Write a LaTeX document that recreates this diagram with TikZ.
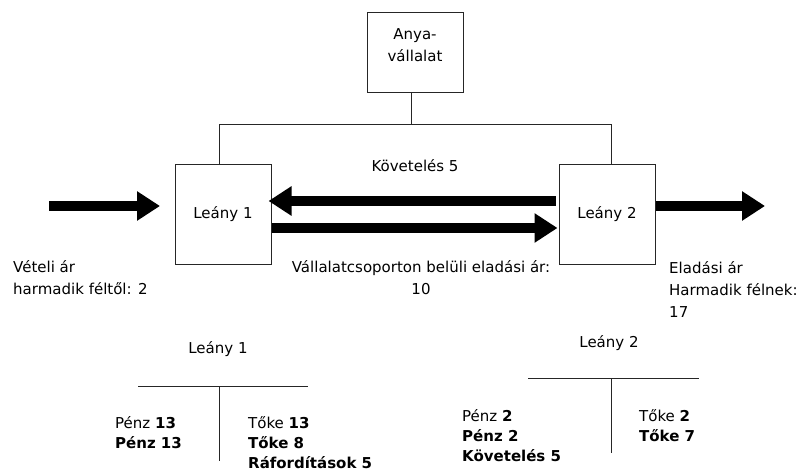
\documentclass[tikz,border=0pt]{standalone}
\usepackage{fontspec}
\setmainfont{DejaVu Sans}
\usetikzlibrary{arrows.meta,calc}
\begin{document}
\begin{tikzpicture}[x=1pt,y=-1pt,
  every node/.style={font=\fontsize{15}{22}\selectfont, inner sep=0pt, text=black},
  box/.style={draw=black!85, line width=1pt, minimum width=96pt, minimum height=99pt},
  conn/.style={draw=black!85, line width=1pt},
  fat/.style={line width=10pt, -{Triangle[length=23pt,width=28pt]}},
  tacc/.style={font=\fontsize{15}{20}\selectfont, anchor=base west, align=left}]
\useasboundingbox (0,0) rectangle (799,470);
% boxes
\node[box] (l1) at (223,214.5) {Leány 1};
\node[box] (l2) at (607,214.5) {Leány 2};
\node[box, minimum height=80pt] (anya) at (415,53) {};
\node[align=center, anchor=base] (anyat) at (415,62) {Anya-\\vállalat};
% connectors to parent
\coordinate (busL) at (219,125);
\coordinate (busR) at (611,125);
\coordinate (anyaB) at (411,125);
\draw[conn] (anya.south -| anyaB) -- (anyaB);
\draw[conn] (l1.north -| busL) -- (busL) -- (busR) -- (l2.north -| busR);
% fat arrows
\coordinate (y201) at (0,201);
\coordinate (y228) at (0,228);
\coordinate (inS) at (49,206);
\coordinate (inE) at (160,206);
\coordinate (outE) at (765,206);
\draw[fat] ($(l2.west|-y201)+(-3,0)$) -- ($(l1.east|-y201)+(-3,0)$);
\draw[fat] (l1.east|-y228) -- ($(l2.west|-y228)+(-1,0)$);
\draw[fat] (inS) -- (inE);
\draw[fat] (l2.east|-outE) -- (outE);
% labels
\node[anchor=base] (kov) at (415,172) {Követelés 5};
\node[anchor=base west, align=left] (veteli) at (13,294) {Vételi ár\\harmadik féltől: 2};
\node[anchor=base, align=center] (belul) at (421,294) {Vállalatcsoporton belüli eladási ár:\\10};
\node[anchor=base west, align=left] (eladasi) at (669,317) {Eladási ár\\Harmadik félnek:\\17};
% T accounts
\node[anchor=base] (t1) at (218,353) {Leány 1};
\node[anchor=base] (t2) at (609,347) {Leány 2};
\coordinate (t1a) at (138,386);
\coordinate (t1b) at (308,386);
\coordinate (t1c) at (219,386);
\coordinate (t1d) at (219,461);
\draw[conn] (t1a) -- (t1b);
\draw[conn] (t1c) -- (t1d);
\coordinate (t2a) at (528,378);
\coordinate (t2b) at (699,378);
\coordinate (t2c) at (611,378);
\coordinate (t2d) at (611,453);
\draw[conn] (t2a) -- (t2b);
\draw[conn] (t2c) -- (t2d);
\node[tacc] (t1l) at (115,448) {Pénz \textbf{13}\\\textbf{Pénz 13}};
\node[tacc] (t1r) at (248,468) {Tőke \textbf{13}\\\textbf{Tőke 8}\\\textbf{Ráfordítások 5}};
\node[tacc] (t2l) at (462,461) {Pénz \textbf{2}\\\textbf{Pénz 2}\\\textbf{Követelés 5}};
\node[tacc] (t2r) at (639,441) {Tőke \textbf{2}\\\textbf{Tőke 7}};
\end{tikzpicture}
\end{document}
